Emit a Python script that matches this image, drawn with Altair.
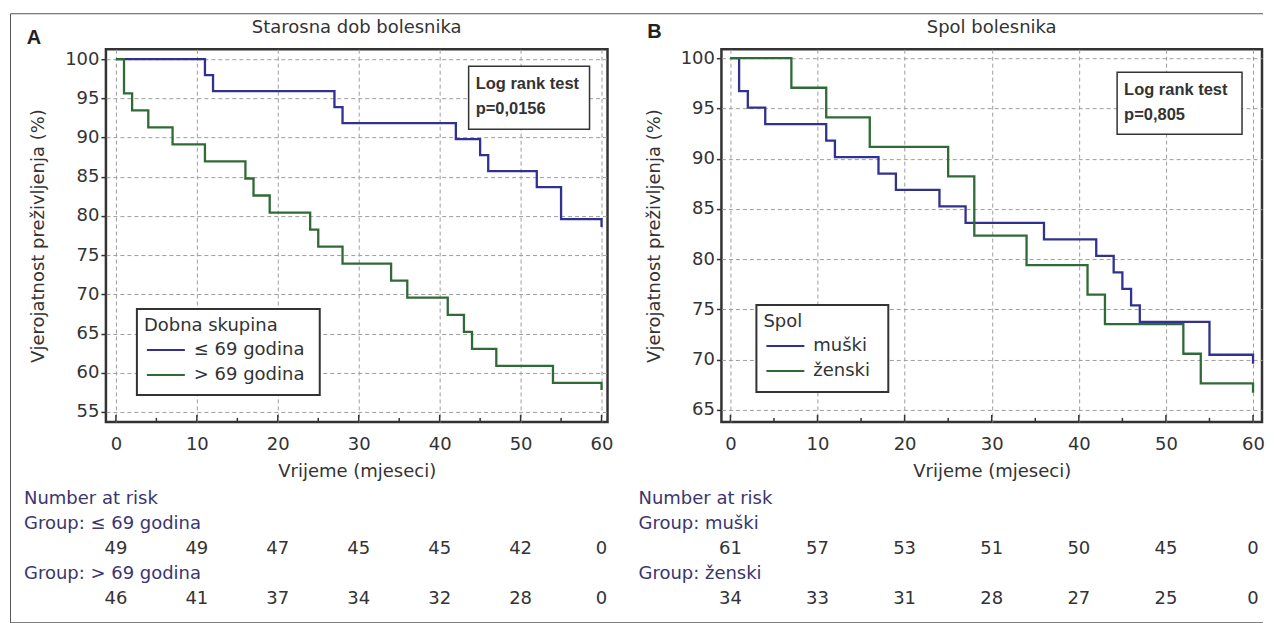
import altair as alt
import pandas as pd

# ---------------- data ----------------
a_title = "Starosna dob bolesnika"
b_title = "Spol bolesnika"
a_legend_title = "Dobna skupina"
b_legend_title = "Spol"
a_groups = ["≤ 69 godina", "> 69 godina"]
b_groups = ["muški", "ženski"]
a_pvalue = ["Log rank test", "p=0,0156"]
b_pvalue = ["Log rank test", "p=0,805"]

a_le69_t = [0, 11, 12, 27, 28, 42, 45, 46, 52, 55, 60, 60]
a_le69_s = [100, 97.96, 95.92, 93.88, 91.84, 89.80, 87.76, 85.71, 83.67, 79.59, 79.59, 78.6]
a_gt69_t = [0, 1, 2, 4, 7, 11, 16, 17, 19, 24, 25, 28, 34, 36, 41, 43, 44, 47, 54, 60, 60]
a_gt69_s = [100, 95.65, 93.48, 91.30, 89.13, 86.96, 84.78, 82.61, 80.43, 78.26, 76.09,
            73.91, 71.74, 69.57, 67.39, 65.22, 63.04, 60.87, 58.70, 58.70, 57.8]

b_m_t = [0, 1, 2, 4, 11, 12, 17, 19, 24, 27, 36, 42, 44, 45, 46, 47, 55, 60, 60]
b_m_s = [100, 96.72, 95.08, 93.44, 91.80, 90.16, 88.52, 86.89, 85.25, 83.61, 81.97,
         80.33, 78.69, 77.05, 75.41, 73.77, 70.49, 70.49, 69.6]
b_z_t = [0, 7, 11, 16, 25, 28, 34, 41, 43, 52, 54, 60, 60]
b_z_s = [100, 97.06, 94.12, 91.18, 88.24, 82.35, 79.41, 76.47, 73.53, 70.59, 67.65, 67.65, 66.7]

risk_t = [0, 10, 20, 30, 40, 50, 60]
a_risk_le69 = [49, 49, 47, 45, 45, 42, 0]
a_risk_gt69 = [46, 41, 37, 34, 32, 28, 0]
b_risk_m = [61, 57, 53, 51, 50, 45, 0]
b_risk_z = [34, 33, 31, 28, 27, 25, 0]

x_major = [0, 10, 20, 30, 40, 50, 60]
x_minor = [5, 15, 25, 35, 45, 55]
a_y_ticks = [55, 60, 65, 70, 75, 80, 85, 90, 95, 100]
b_y_ticks = [65, 70, 75, 80, 85, 90, 95, 100]

# ---------------- styling ----------------
FONT = "DejaVu Sans"
BOLD = "Liberation Sans"
TXT = "#333333"
RISK = "#3b3570"
FRAME = "#333333"
COLORS = ["#31318f", "#2f6b37"]
GRID = "#9e9e9e"


def one(**kw):
    return pd.DataFrame([kw])


def vtext(txt, x, y, size=18, font=FONT, weight="normal", align="left", color=TXT):
    return alt.Chart(one(label=txt)).mark_text(
        font=font, fontSize=size, fontWeight=weight, align=align,
        baseline="middle", color=color
    ).encode(x=alt.value(x), y=alt.value(y), text="label:N")


def vrect(x, x2, y, y2, stroke=FRAME, sw=1.5, fill="white"):
    return alt.Chart(one(k=1)).mark_rect(
        fill=fill, stroke=stroke, strokeWidth=sw
    ).encode(x=alt.value(x), x2=alt.value(x2), y=alt.value(y), y2=alt.value(y2))


def vline(x, x2, y, y2, color="#555555", sw=1):
    return alt.Chart(one(k=1)).mark_rule(color=color, strokeWidth=sw).encode(
        x=alt.value(x), x2=alt.value(x2), y=alt.value(y), y2=alt.value(y2))


def panel(c):
    W, H = c["W"], c["H"]
    xs = alt.Scale(domain=c["xdom"], nice=False, zero=False)
    ys = alt.Scale(domain=c["ydom"], nice=False, zero=False)
    x_axis = alt.Axis(
        values=x_major, format="d", title="Vrijeme (mjeseci)", grid=True,
        gridColor=GRID, gridDash=[4, 3], gridWidth=1, ticks=False, domain=False,
        labelFont=FONT, labelFontSize=18, labelColor=TXT, labelPadding=14,
        labelFlush=False, titleFont=FONT, titleFontSize=18, titleFontWeight="normal",
        titleColor=TXT, titlePadding=9,
    )
    y_axis = alt.Axis(
        values=c["yticks"], format="d", title="Vjerojatnost preživljenja (%)", grid=True,
        gridColor=GRID, gridDash=[4, 3], gridWidth=1, ticks=True, tickSize=5,
        tickColor=FRAME, tickWidth=1.5, domain=False, labelFont=FONT, labelFontSize=18,
        labelColor=TXT, labelPadding=2, titleFont=FONT, titleFontSize=18,
        titleFontWeight="normal", titleColor=TXT, titlePadding=17,
    )
    X = alt.X("t:Q", scale=xs, axis=x_axis)
    Y = alt.Y("s:Q", scale=ys, axis=y_axis)

    rows = []
    for g, t, s in c["series"]:
        for i, (tt, ss) in enumerate(zip(t, s)):
            rows.append({"t": tt, "s": ss, "grupa": g, "i": i})
    km = pd.DataFrame(rows)

    layers = []
    if c.get("border"):
        bx, bx2, by, by2 = c["border"]
        layers.append(vline(bx, bx2, by, by))
        layers.append(vline(bx, bx2, by2, by2))
        layers.append(vline(bx, bx, by, by2))

    lines = alt.Chart(km).mark_line(interpolate="step-after", strokeWidth=2.3).encode(
        x=X, y=Y,
        color=alt.Color("grupa:N", scale=alt.Scale(domain=c["groups"], range=COLORS), legend=None),
        detail="grupa:N",
        order="i:Q",
    )
    layers.append(lines)

    maj = alt.Chart(pd.DataFrame({"t": x_major})).mark_rule(color=FRAME, strokeWidth=1.5).encode(
        x=X, y=alt.value(H), y2=alt.value(H - 7))
    mnr = alt.Chart(pd.DataFrame({"t": x_minor})).mark_rule(color=FRAME, strokeWidth=1.5).encode(
        x=X, y=alt.value(H), y2=alt.value(H - 4))
    layers += [maj, mnr]

    # log rank box
    lx, lx2, ly, ly2 = c["lr_box"]
    layers.append(vrect(lx, lx2, ly, ly2, sw=1.5))
    layers.append(vtext(c["pvalue"][0], lx + 7, ly + 18, size=16.5, font=BOLD, weight="bold"))
    layers.append(vtext(c["pvalue"][1], lx + 7, ly + 43, size=16.5, font=BOLD, weight="bold"))

    # legend box
    gx, gx2, gy, gy2 = c["leg_box"]
    layers.append(vrect(gx, gx2, gy, gy2, sw=2))
    layers.append(vtext(c["leg_title"], gx + 7, gy + 17))
    for k, g in enumerate(c["groups"]):
        yy = gy + 41 + 25 * k
        layers.append(alt.Chart(one(k=k)).mark_rule(color=COLORS[k], strokeWidth=2).encode(
            x=alt.value(gx + 10), x2=alt.value(gx + 48), y=alt.value(yy)))
        layers.append(vtext(g, gx + 57, yy))

    # number at risk table
    layers.append(vtext("Number at risk", c["risk_x"], H + 77, color=RISK))
    for k, (g, vals) in enumerate(zip(c["groups"], c["risk"])):
        layers.append(vtext("Group: " + g, c["risk_x"], H + 102 + 50 * k, color=RISK))
        layers.append(alt.Chart(pd.DataFrame({"t": risk_t, "n": vals})).mark_text(
            font=FONT, fontSize=18, color=TXT, align="center", baseline="middle"
        ).encode(x=X, y=alt.value(H + 127 + 50 * k), text="n:N"))

    # panel title and letter
    layers.append(vtext(c["title"], W / 2, -21, align="center"))
    layers.append(vtext(c["letter"], c["letter_xy"][0], c["letter_xy"][1], size=20,
                        font=BOLD, weight="bold", align="center", color="#222222"))

    return alt.layer(*layers).properties(width=W, height=H)


A = panel(dict(
    W=502, H=373, xdom=[-1.235, 60.74], ydom=[53.725, 101.275], yticks=a_y_ticks,
    series=[(a_groups[0], a_le69_t, a_le69_s), (a_groups[1], a_gt69_t, a_gt69_s)],
    groups=a_groups, pvalue=a_pvalue, lr_box=(363, 484, 17, 80),
    leg_title=a_legend_title, leg_box=(31, 214, 260, 346),
    risk=[a_risk_le69, a_risk_gt69], risk_x=-82, letter="A", letter_xy=(-72, -11),
    title=a_title, border=(-95.5, 1158, -35.5, 574),
))
B = panel(dict(
    W=541, H=373, xdom=[-1.03, 61.03], ydom=[63.807, 100.895], yticks=b_y_ticks,
    series=[(b_groups[0], b_m_t, b_m_s), (b_groups[1], b_z_t, b_z_s)],
    groups=b_groups, pvalue=b_pvalue, lr_box=(396, 521, 23, 85),
    leg_title=b_legend_title, leg_box=(35, 167, 256, 343),
    risk=[b_risk_m, b_risk_z], risk_x=-83, letter="B", letter_xy=(-67, -17),
    title=b_title,
))

chart = alt.hconcat(A, B, spacing=114, bounds="flush").resolve_scale(
    color="independent"
).configure_view(stroke=FRAME, strokeWidth=2.5).properties(
    padding={"left": 0, "top": 3, "right": 0, "bottom": 0}
)

chart.save("out.html", embed_options={"renderer": "svg", "actions": False})
